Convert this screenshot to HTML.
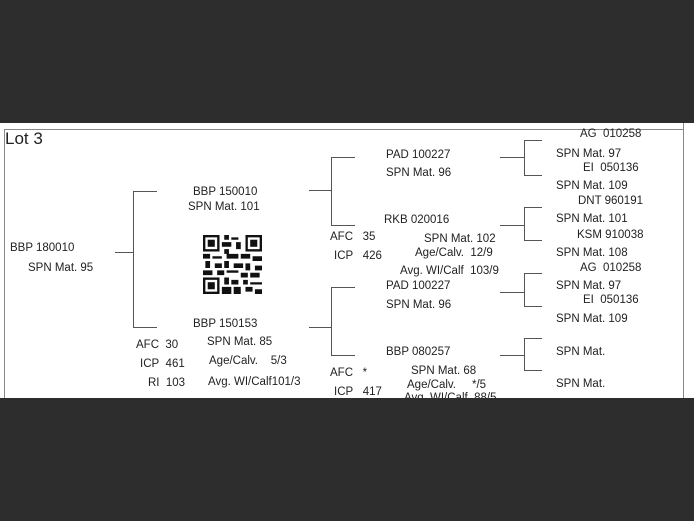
<!DOCTYPE html>
<html><head><style>
body{margin:0;width:694px;height:521px;background:#2d2d2d;position:relative;overflow:hidden;font-family:"Liberation Sans",sans-serif;color:#222}
#w{position:absolute;left:0;top:123px;width:694px;height:275px;background:#fff;overflow:hidden}
#c{position:absolute;left:0;top:1px}
.t{position:absolute;font-size:11.5px;line-height:13px;white-space:nowrap}
.h{position:absolute;height:1px;background:#555}
.v{position:absolute;width:1px;background:#555}
</style></head><body>
<div id="w">
<div class="h" style="left:4px;top:6px;width:679px;background:#888"></div>
<div class="v" style="left:4px;top:6px;height:275px;background:#888"></div>
<div class="v" style="left:683px;top:0;height:275px;background:#888"></div>
</div>
<div style="position:absolute;left:0;top:0">
<div class="t" style="left:5px;top:129px;font-size:17px;line-height:19px">Lot 3</div>
</div>
<div id="c">
<div class="t" style="left:10px;top:241px">BBP 180010</div>
<div class="t" style="left:28px;top:261px">SPN Mat. 95</div>
<div class="h" style="left:115px;top:251px;width:18px"></div>
<div class="v" style="left:133px;top:190px;height:137px"></div>
<div class="h" style="left:133px;top:190px;width:24px"></div>
<div class="h" style="left:133px;top:326px;width:24px"></div>
<div class="t" style="left:193px;top:185px">BBP 150010</div>
<div class="t" style="left:188px;top:200px">SPN Mat. 101</div>
<svg style="position:absolute;left:203px;top:234px" width="59" height="59" viewBox="0 0 25 25">
<rect width="25" height="25" fill="#fff"/>
<g fill="#111"><rect x="0" y="0" width="7" height="7"/><rect x="18" y="0" width="7" height="7"/><rect x="0" y="18" width="7" height="7"/></g>
<g fill="#fff"><rect x="1" y="1" width="5" height="5"/><rect x="19" y="1" width="5" height="5"/><rect x="1" y="19" width="5" height="5"/></g>
<g fill="#111"><rect x="2" y="2" width="3" height="3"/><rect x="20" y="2" width="3" height="3"/><rect x="2" y="20" width="3" height="3"/>
<path d="M9 0h2v2h-2zM12 1h3v1h-3zM8 3h4v2h-4zM14 3h2v3h-2zM9 6h2v2h-2zM0 8h3v2h-3zM4 9h4v1h-4zM10 8h5v2h-5zM16 8h4v2h-4zM21 9h4v2h-4zM1 11h2v3h-2zM5 12h3v2h-3zM9 11h2v3h-2zM13 12h4v2h-4zM18 12h2v3h-2zM22 13h3v2h-3zM0 15h4v2h-4zM6 15h3v2h-3zM10 15h5v1h-5zM16 16h3v2h-3zM20 16h4v2h-4zM9 18h2v3h-2zM12 19h3v2h-3zM17 19h2v2h-2zM20 20h5v1h-5zM8 22h4v3h-4zM13 22h3v3h-3zM18 22h3v2h-3zM22 23h3v2h-3z"/></g>
</svg>
<div class="t" style="left:193px;top:317px">BBP 150153</div>
<div class="t" style="left:136px;top:338px">AFC&nbsp; 30</div>
<div class="t" style="left:140px;top:357px">ICP&nbsp; 461</div>
<div class="t" style="left:148px;top:376px">RI&nbsp; 103</div>
<div class="t" style="left:207px;top:335px">SPN Mat. 85</div>
<div class="t" style="left:209px;top:354px">Age/Calv.&nbsp;&nbsp;&nbsp; 5/3</div>
<div class="t" style="left:208px;top:375px">Avg. WI/Calf101/3</div>

<div class="h" style="left:309px;top:189px;width:22px"></div>
<div class="v" style="left:331px;top:156px;height:69px"></div>
<div class="h" style="left:331px;top:156px;width:24px"></div>
<div class="h" style="left:331px;top:224px;width:24px"></div>
<div class="t" style="left:386px;top:148px">PAD 100227</div>
<div class="t" style="left:386px;top:166px">SPN Mat. 96</div>
<div class="t" style="left:384px;top:213px">RKB 020016</div>
<div class="t" style="left:330px;top:230px">AFC&nbsp;&nbsp; 35</div>
<div class="t" style="left:334px;top:249px">ICP&nbsp;&nbsp; 426</div>
<div class="t" style="left:424px;top:232px">SPN Mat. 102</div>
<div class="t" style="left:415px;top:246px">Age/Calv.&nbsp; 12/9</div>
<div class="t" style="left:400px;top:264px">Avg. WI/Calf&nbsp; 103/9</div>

<div class="h" style="left:309px;top:326px;width:22px"></div>
<div class="v" style="left:331px;top:286px;height:69px"></div>
<div class="h" style="left:331px;top:286px;width:24px"></div>
<div class="h" style="left:331px;top:354px;width:24px"></div>
<div class="t" style="left:386px;top:279px">PAD 100227</div>
<div class="t" style="left:386px;top:298px">SPN Mat. 96</div>
<div class="t" style="left:386px;top:345px">BBP 080257</div>
<div class="t" style="left:330px;top:366px">AFC&nbsp;&nbsp; *</div>
<div class="t" style="left:334px;top:385px">ICP&nbsp;&nbsp; 417</div>
<div class="t" style="left:411px;top:364px">SPN Mat. 68</div>
<div class="t" style="left:407px;top:378px">Age/Calv.&nbsp;&nbsp;&nbsp;&nbsp; */5</div>
<div class="t" style="left:404px;top:391px;height:6px;overflow:hidden">Avg. WI/Calf&nbsp; 88/5</div>

<div class="h" style="left:500px;top:156px;width:24px"></div>
<div class="v" style="left:524px;top:139px;height:36px"></div>
<div class="h" style="left:524px;top:139px;width:18px"></div>
<div class="h" style="left:524px;top:174px;width:18px"></div>
<div class="h" style="left:500px;top:224px;width:24px"></div>
<div class="v" style="left:524px;top:206px;height:34px"></div>
<div class="h" style="left:524px;top:206px;width:18px"></div>
<div class="h" style="left:524px;top:239px;width:18px"></div>
<div class="h" style="left:500px;top:291px;width:24px"></div>
<div class="v" style="left:524px;top:272px;height:34px"></div>
<div class="h" style="left:524px;top:272px;width:18px"></div>
<div class="h" style="left:524px;top:305px;width:18px"></div>
<div class="h" style="left:500px;top:354px;width:24px"></div>
<div class="v" style="left:524px;top:337px;height:33px"></div>
<div class="h" style="left:524px;top:337px;width:18px"></div>
<div class="h" style="left:524px;top:369px;width:18px"></div>

<div class="t" style="left:580px;top:127px;height:13px;overflow:hidden"><span style="position:relative;top:0">AG&nbsp; 010258</span></div>
<div class="t" style="left:556px;top:147px">SPN Mat. 97</div>
<div class="t" style="left:583px;top:161px">EI&nbsp; 050136</div>
<div class="t" style="left:556px;top:179px">SPN Mat. 109</div>
<div class="t" style="left:578px;top:194px">DNT 960191</div>
<div class="t" style="left:556px;top:212px">SPN Mat. 101</div>
<div class="t" style="left:577px;top:228px">KSM 910038</div>
<div class="t" style="left:556px;top:246px">SPN Mat. 108</div>
<div class="t" style="left:580px;top:261px">AG&nbsp; 010258</div>
<div class="t" style="left:556px;top:279px">SPN Mat. 97</div>
<div class="t" style="left:583px;top:293px">EI&nbsp; 050136</div>
<div class="t" style="left:556px;top:312px">SPN Mat. 109</div>
<div class="t" style="left:556px;top:345px">SPN Mat.</div>
<div class="t" style="left:556px;top:377px">SPN Mat.</div>
</div>
</body></html>
